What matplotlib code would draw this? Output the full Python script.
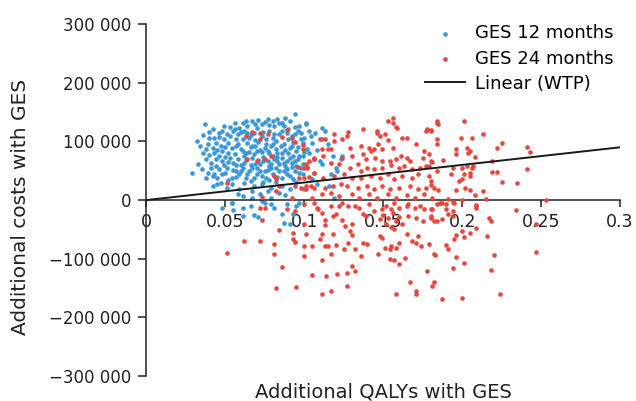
import matplotlib.pyplot as plt
from matplotlib.ticker import FuncFormatter

plt.rcParams['font.family'] = ['DejaVu Sans']

# GES 12 months: (incremental QALYs, incremental cost in thousands)
ges12 = [
    (0.037, 130), (0.042, 121), (0.049, 126), (0.061, 131), (0.067, 135), (0.077, 138), (0.083, 138),
    (0.084, 131), (0.094, 147), (0.101, 130), (0.056, 121), (0.059, 123), (0.064, 126), (0.070, 123),
    (0.073, 129), (0.081, 126), (0.087, 126), (0.091, 134),
    (0.032, 101), (0.034, 92), (0.040, 106), (0.046, 114), (0.049, 104), (0.053, 109), (0.058, 112),
    (0.061, 104), (0.065, 106), (0.068, 114), (0.073, 109), (0.078, 118), (0.080, 106), (0.084, 112),
    (0.089, 114), (0.092, 109), (0.096, 118), (0.098, 104),
    (0.038, 87), (0.043, 80), (0.048, 83), (0.054, 88), (0.056, 78), (0.060, 87), (0.063, 80),
    (0.067, 92), (0.070, 84), (0.075, 88), (0.078, 80), (0.082, 87), (0.086, 80), (0.091, 88),
    (0.095, 84), (0.097, 75), (0.102, 87),
    (0.038, 70), (0.041, 63), (0.044, 70), (0.048, 66), (0.053, 72), (0.058, 70), (0.062, 63),
    (0.067, 72), (0.072, 61), (0.077, 66), (0.081, 70), (0.084, 61), (0.089, 66), (0.092, 63), (0.096, 70),
    (0.035, 53), (0.041, 55), (0.046, 53), (0.051, 55), (0.057, 49), (0.061, 55), (0.065, 49),
    (0.070, 55), (0.075, 49), (0.079, 55), (0.084, 49), (0.089, 53), (0.094, 49),
    (0.042, 41), (0.048, 44), (0.054, 38), (0.059, 44), (0.063, 38), (0.070, 44), (0.076, 38),
    (0.080, 44), (0.086, 38), (0.091, 41),
    (0.038, 38), (0.029, 46), (0.047, 29), (0.054, 27), (0.062, 29), (0.068, 24), (0.073, 27),
    (0.079, 20), (0.086, 24), (0.042, 24), (0.045, 27), (0.051, 20), (0.059, 19), (0.067, 15),
    (0.072, 10), (0.077, 15), (0.084, 12), (0.091, 19), (0.067, 3), (0.061, 7), (0.073, -2),
    (0.079, 3), (0.054, -5),
    (0.101, 131), (0.098, 114), (0.100, 106), (0.104, 109), (0.105, 97), (0.111, 123), (0.113, 118),
    (0.111, 104), (0.103, 80), (0.099, 75), (0.110, 66), (0.111, 61), (0.118, 75), (0.123, 70),
    (0.124, 75), (0.120, 54), (0.121, 49), (0.106, 46), (0.117, 44), (0.099, 44), (0.105, 36),
    (0.108, 27), (0.116, 24), (0.119, 3),
    (0.048, -14), (0.054, -5), (0.055, -17), (0.061, -14), (0.068, -26), (0.071, -29), (0.075, -5),
    (0.079, -7), (0.086, -24), (0.087, -39), (0.091, -41), (0.089, -7), (0.095, -10), (0.097, -5),
    (0.093, -24), (0.061, -27),
    (0.064, 98), (0.071, 99), (0.076, 95), (0.082, 100), (0.087, 96), (0.093, 99), (0.066, 90),
    (0.072, 86), (0.079, 92), (0.085, 92), (0.090, 80), (0.062, 76), (0.068, 78), (0.074, 74),
    (0.080, 76), (0.086, 72), (0.093, 76), (0.058, 96), (0.052, 97), (0.047, 93), (0.044, 98),
    (0.050, 74), (0.055, 63), (0.060, 59), (0.066, 60), (0.071, 68), (0.078, 58), (0.083, 66),
    (0.088, 58), (0.095, 58), (0.099, 62), (0.102, 56), (0.106, 70), (0.108, 86), (0.107, 115),
    (0.115, 96), (0.094, 125), (0.088, 140), (0.078, 128), (0.071, 136), (0.064, 115), (0.055, 117),
    (0.040, 116), (0.036, 111), (0.043, 45), (0.052, 34), (0.066, 33), (0.074, 31), (0.082, 31),
    (0.095, 31), (0.100, 19), (0.088, 8), (0.081, -14), (0.066, -10), (0.058, 10),
    (0.046, 108), (0.051, 113), (0.057, 104), (0.062, 118), (0.066, 111), (0.069, 102), (0.074, 116),
    (0.076, 104), (0.081, 113), (0.086, 118), (0.090, 104), (0.094, 112), (0.099, 97), (0.103, 118),
    (0.045, 86), (0.050, 90), (0.052, 81), (0.057, 92), (0.061, 84), (0.065, 82), (0.069, 93),
    (0.073, 82), (0.077, 84), (0.080, 96), (0.083, 81), (0.088, 86), (0.092, 93), (0.096, 91),
    (0.100, 82), (0.040, 77), (0.046, 75), (0.052, 65), (0.057, 59), (0.063, 69), (0.069, 62),
    (0.074, 67), (0.079, 62), (0.083, 74), (0.087, 64), (0.091, 71), (0.094, 66), (0.098, 54),
    (0.044, 58), (0.049, 60), (0.055, 52), (0.060, 50), (0.067, 54), (0.072, 50), (0.077, 52),
    (0.082, 54), (0.087, 50), (0.092, 57), (0.097, 47), (0.039, 47), (0.045, 37), (0.050, 47),
    (0.057, 40), (0.064, 45), (0.068, 38), (0.073, 41), (0.078, 34), (0.083, 40), (0.089, 45),
    (0.093, 36), (0.056, 132), (0.063, 135), (0.069, 129), (0.075, 133), (0.080, 134), (0.086, 131),
    (0.090, 122), (0.097, 126), (0.060, 116), (0.053, 124), (0.048, 118), (0.043, 106), (0.039, 95),
    (0.036, 80), (0.033, 62), (0.042, 88),
]

# GES 24 months
ges24 = [
    (0.067, 116), (0.072, 114), (0.063, 109), (0.077, 112), (0.072, 104), (0.086, 107), (0.089, 119),
    (0.092, 106), (0.094, 99), (0.099, 94), (0.099, 87), (0.064, 70), (0.070, 66), (0.075, 70),
    (0.079, 75), (0.103, 66), (0.106, 70), (0.100, 55), (0.096, 56), (0.081, 41), (0.082, 36),
    (0.097, 37), (0.103, 39), (0.051, 29), (0.084, 24), (0.094, 24), (0.098, 20), (0.101, 19),
    (0.104, 24), (0.082, 15), (0.073, 5), (0.092, 3),
    (0.153, 135), (0.156, 140), (0.158, 124), (0.137, 121), (0.128, 116), (0.146, 118), (0.148, 109),
    (0.151, 112), (0.153, 102), (0.162, 106), (0.165, 106), (0.178, 121), (0.180, 119), (0.124, 104),
    (0.119, 101), (0.113, 104), (0.110, 104), (0.117, 87), (0.115, 87), (0.129, 89), (0.136, 92),
    (0.141, 89), (0.142, 84), (0.144, 87), (0.149, 87), (0.147, 95), (0.156, 89), (0.171, 95),
    (0.176, 84), (0.179, 78), (0.111, 87), (0.106, 72), (0.112, 75), (0.124, 72), (0.130, 75),
    (0.137, 78), (0.139, 70), (0.145, 72), (0.149, 66), (0.154, 66), (0.158, 70), (0.161, 75),
    (0.165, 72), (0.167, 66), (0.175, 72), (0.180, 66), (0.101, 61), (0.102, 55), (0.117, 63),
    (0.122, 61), (0.129, 55), (0.134, 61), (0.136, 49), (0.140, 55), (0.144, 53), (0.149, 55),
    (0.155, 60), (0.160, 55), (0.163, 58), (0.168, 53), (0.173, 55), (0.177, 58), (0.106, 46),
    (0.112, 37), (0.119, 41), (0.125, 44), (0.130, 37), (0.136, 37), (0.142, 41), (0.148, 37),
    (0.153, 44), (0.157, 36), (0.162, 41), (0.168, 37), (0.172, 44), (0.179, 41), (0.180, 32),
    (0.100, 37), (0.101, 24), (0.106, 20), (0.113, 20), (0.118, 24), (0.123, 27), (0.127, 24),
    (0.134, 20), (0.140, 24), (0.144, 19), (0.149, 24), (0.154, 19), (0.160, 20), (0.167, 24),
    (0.172, 19), (0.177, 20), (0.111, 10), (0.117, 12), (0.122, 7), (0.130, 10), (0.135, 3),
    (0.141, 10), (0.146, 3), (0.153, 10), (0.158, 3), (0.165, 9), (0.170, 3), (0.176, 10),
    (0.181, 3), (0.105, 3),
    (0.146, 114), (0.156, 131), (0.159, 123), (0.184, 131), (0.119, 112), (0.127, 109), (0.177, 118),
    (0.184, 135), (0.185, 130), (0.201, 135), (0.180, 118), (0.184, 104), (0.184, 95), (0.199, 106),
    (0.206, 106), (0.213, 112), (0.196, 87), (0.196, 78), (0.203, 89), (0.205, 84), (0.204, 80),
    (0.208, 73), (0.225, 97), (0.222, 89), (0.241, 90), (0.243, 82), (0.181, 65), (0.188, 68),
    (0.179, 58), (0.184, 49), (0.194, 55), (0.200, 55), (0.203, 58), (0.206, 55), (0.207, 58),
    (0.219, 66), (0.219, 48), (0.222, 48), (0.241, 53), (0.193, 44), (0.201, 44), (0.205, 46),
    (0.205, 41), (0.200, 36), (0.198, 32), (0.225, 31), (0.235, 29), (0.180, 26), (0.182, 20),
    (0.185, 17), (0.196, 17), (0.202, 20), (0.205, 17), (0.213, 15), (0.208, 9), (0.215, 2),
    (0.191, 2), (0.187, -5), (0.186, -5), (0.195, -5), (0.200, 0), (0.209, -8), (0.253, 0),
    (0.190, -7), (0.194, -3), (0.181, -15), (0.180, -27), (0.182, -36), (0.187, -33), (0.190, -15),
    (0.194, -19), (0.191, -24), (0.194, -27), (0.209, -10), (0.209, -14), (0.217, -31), (0.218, -36),
    (0.209, -48), (0.205, -56), (0.200, -53), (0.201, -63), (0.196, -60), (0.195, -66), (0.216, -61),
    (0.234, -17), (0.247, -41), (0.179, -75), (0.190, -77), (0.191, -83), (0.183, -94), (0.196, -97),
    (0.220, -94), (0.247, -89), (0.201, -107), (0.194, -116), (0.218, -119), (0.182, -140),
    (0.224, -160), (0.187, -169), (0.200, -167),
    (0.108, -14), (0.111, -22), (0.118, -27), (0.120, -24), (0.113, -34), (0.113, -43), (0.124, -34),
    (0.126, -44), (0.130, -41), (0.129, -53), (0.118, -58), (0.130, -60), (0.111, -58), (0.110, -66),
    (0.100, -78), (0.105, -78), (0.113, -78), (0.115, -78), (0.120, -77), (0.128, -73), (0.125, -83),
    (0.132, -83), (0.137, -73), (0.140, -75), (0.100, -95), (0.117, -92), (0.136, -95), (0.147, -92),
    (0.151, -82), (0.155, -78), (0.158, -82), (0.154, -84), (0.160, -73), (0.149, -65), (0.148, -61),
    (0.165, -58), (0.172, -61), (0.168, -70), (0.171, -73), (0.174, -78), (0.182, -92), (0.111, -102),
    (0.154, -101), (0.157, -102), (0.160, -109), (0.164, -99), (0.130, -112), (0.132, -121),
    (0.127, -124), (0.121, -126), (0.114, -130), (0.105, -128), (0.178, -121), (0.167, -140),
    (0.127, -147), (0.117, -155), (0.111, -160), (0.158, -160), (0.171, -155), (0.171, -160), (0.181, -147),
    (0.100, -7), (0.106, -5), (0.109, -15), (0.117, -10), (0.122, -10), (0.124, -5), (0.128, -10),
    (0.132, -10), (0.135, -14), (0.137, -24), (0.139, -27), (0.141, -7), (0.144, -19), (0.149, -15),
    (0.152, -10), (0.155, -15), (0.157, -5), (0.160, -14), (0.165, -10), (0.166, -7), (0.170, -14),
    (0.173, -10), (0.176, -15), (0.180, -15), (0.184, -7), (0.166, -27), (0.171, -31), (0.175, -36),
    (0.180, -31), (0.184, -36),
    (0.150, -25), (0.153, -30), (0.156, -22), (0.158, -35), (0.152, -40), (0.160, -28), (0.155, -45),
    (0.148, -33), (0.162, -40), (0.157, -50),
    (0.072, -14), (0.075, -14), (0.073, -34), (0.089, -15), (0.094, -19), (0.084, -51), (0.093, -56),
    (0.100, -41), (0.101, -58), (0.062, -70), (0.072, -70), (0.081, -75), (0.093, -66), (0.094, -72),
    (0.051, -90), (0.081, -92), (0.086, -114), (0.082, -150), (0.095, -148),
]

wtp = 300000  # willingness to pay per QALY
x_line = [0, 0.3]

blue = '#3a98d8'
red = '#e8473e'
ink = '#222222'

fig = plt.figure(figsize=(6.36, 4.01), dpi=100)
ax = fig.add_axes([0.230, 0.062, 0.745, 0.878])

ax.scatter([p[0] for p in ges12], [p[1] * 1000 for p in ges12], s=11, color=blue,
           linewidths=0, label='GES 12 months', zorder=2)
ax.scatter([p[0] for p in ges24], [p[1] * 1000 for p in ges24], s=11, color=red,
           linewidths=0, label='GES 24 months', zorder=3)
ax.plot(x_line, [x * wtp for x in x_line], color='#1a1a1a', lw=1.4, label='Linear (WTP)', zorder=4)

ax.set_xlim(0, 0.3)
ax.set_ylim(-300000, 300000)
ax.set_xticks([0, 0.05, 0.1, 0.15, 0.2, 0.25, 0.3])
ax.set_xticklabels(['0', '0.05', '0.1', '0.15', '0.2', '0.25', '0.3'])
ax.set_yticks(range(-300000, 300001, 100000))


def fmt(v, pos):
    s = f'{abs(int(v)):,}'.replace(',', ' ')
    return ('\u2212' + s) if v < 0 else s


ax.yaxis.set_major_formatter(FuncFormatter(fmt))

for s in ['top', 'right']:
    ax.spines[s].set_visible(False)
ax.spines['bottom'].set_position(('data', 0))
for s in ['left', 'bottom']:
    ax.spines[s].set_linewidth(1.1)
    ax.spines[s].set_color(ink)

ax.tick_params(axis='both', direction='out', width=1.1, colors=ink,
               labelsize=12, labelcolor=ink)
ax.tick_params(axis='x', length=5, pad=4, labelsize=12.5)
ax.tick_params(axis='y', length=6, pad=5)

ax.set_xlabel('Additional QALYs with GES', fontsize=14, color=ink)
ax.xaxis.set_label_coords(0.5, -0.018)
ax.set_ylabel('Additional costs with GES', fontsize=14.5, color=ink)
ax.yaxis.set_label_coords(-0.245, 0.48)

ax.legend(loc='upper left', bbox_to_anchor=(0.569, 1.025), frameon=False, fontsize=13,
          handlelength=2.2, handletextpad=0.6, labelspacing=0.4, borderpad=0,
          markerscale=1.0, scatterpoints=1)

fig.savefig('out.png', dpi=100)
